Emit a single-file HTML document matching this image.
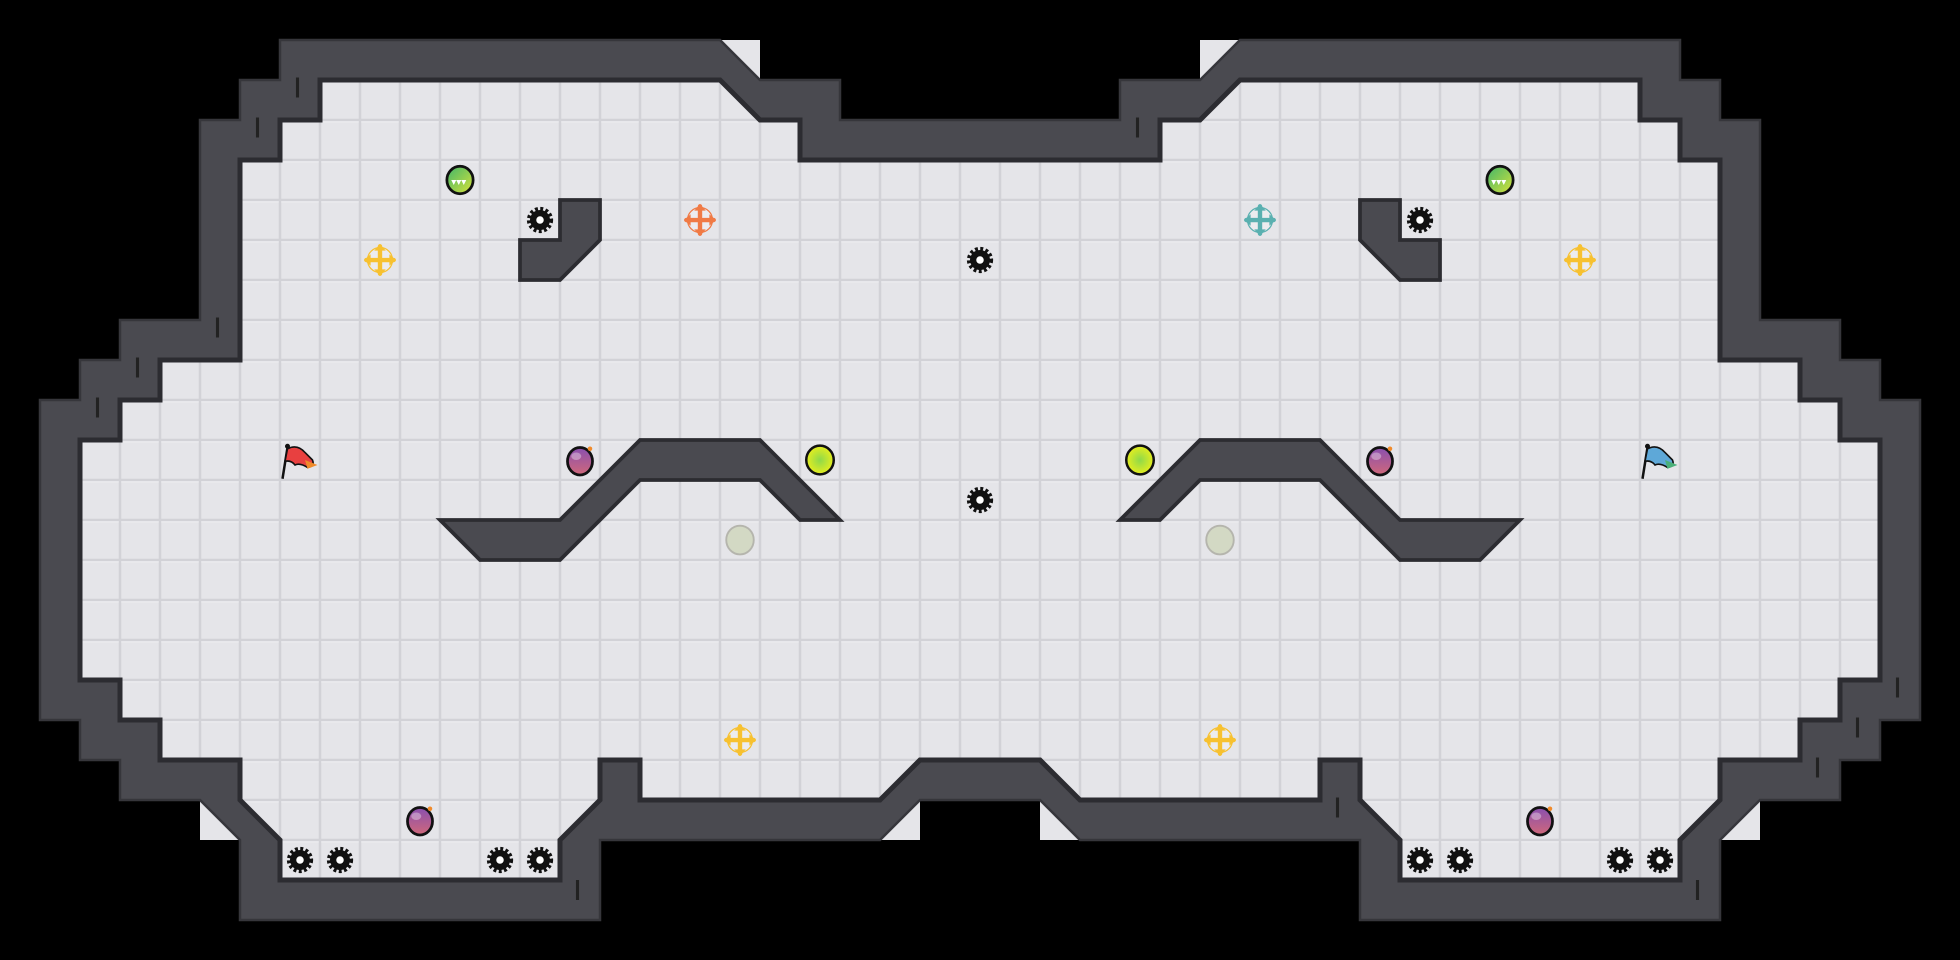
<!DOCTYPE html>
<html><head><meta charset="utf-8"><style>
html,body{margin:0;padding:0;background:#000;width:1960px;height:960px;overflow:hidden}
svg{display:block}
</style></head><body>
<svg width="1960" height="960" viewBox="0 0 1568 768" xmlns="http://www.w3.org/2000/svg">
<defs>
<pattern id="tile" x="0" y="0" width="32" height="32" patternUnits="userSpaceOnUse">
<rect width="32" height="32" fill="#d2d2d7"/>
<rect x="1" y="1" width="30" height="30" fill="#e5e5e9"/>
<rect x="1" y="1" width="30" height="1" fill="#ededf0"/>
</pattern>
<radialGradient id="lime"><stop offset="0" stop-color="#8fd94a"/><stop offset="1" stop-color="#e6ee1e"/></radialGradient>
<linearGradient id="gem" x1="0" y1="0" x2="1" y2="1"><stop offset="0" stop-color="#3fb66a"/><stop offset="1" stop-color="#d9e23a"/></linearGradient>
<linearGradient id="pot" x1="0" y1="0" x2="0" y2="1"><stop offset="0" stop-color="#8a4fb0"/><stop offset="1" stop-color="#d0687a"/></linearGradient>
<g id="gear">
<circle r="8.5" fill="none" stroke="#111" stroke-width="4" stroke-dasharray="2.2 1.8"/>
<circle r="8" fill="#111"/>
<circle r="3" fill="#fff"/>
</g>
<g id="cross">
<circle r="10" fill="#ececef"/>
<path d="M0,-11 L0,11 M-11,0 L11,0" stroke-width="3.5" stroke-linecap="round"/>
<path d="M-3.5,-8 L0,-12 L3.5,-8 Z M-3.5,8 L0,12 L3.5,8 Z M-8,-3.5 L-12,0 L-8,3.5 Z M8,-3.5 L12,0 L8,3.5 Z"/>
</g>
<g id="potion">
<ellipse cx="0" cy="1" rx="10" ry="11" fill="url(#pot)" stroke="#111" stroke-width="2.2"/>
<ellipse cx="-3" cy="-3" rx="4" ry="3" fill="#fff" opacity="0.35"/>
<circle cx="8" cy="-9" r="1.8" fill="#f08a2a"/>
</g>
</defs>
<rect width="1568" height="768" fill="#000"/>
<!-- light triangles outside diagonals -->
<g fill="#e5e5e9">
<polygon points="576,32 608,32 608,64"/>
<polygon points="960,32 992,32 960,64"/>
<polygon points="160,640 160,672 192,672"/>
<polygon points="736,640 736,672 704,672"/>
<polygon points="832,640 864,672 832,672"/>
<polygon points="1408,640 1408,672 1376,672"/>
</g>
<!-- outer wall -->
<polygon fill="#4a4a50" stroke="#36363b" stroke-width="2" points="672,96 672,64 608,64 576,32 224,32 224,64 192,64 192,96 160,96 160,256 96,256 96,288 64,288 64,320 32,320 32,576 64,576 64,608 96,608 96,640 160,640 192,672 192,736 480,736 480,672 704,672 736,640 832,640 864,672 1088,672 1088,736 1376,736 1376,672 1408,640 1472,640 1472,608 1504,608 1504,576 1536,576 1536,320 1504,320 1504,288 1472,288 1472,256 1408,256 1408,96 1376,96 1376,64 1344,64 1344,32 992,32 960,64 896,64 896,96"/>
<!-- floor -->
<polygon fill="url(#tile)" stroke="#2c2c31" stroke-width="4" stroke-linejoin="miter" points="640,128 640,96 608,96 576,64 256,64 256,96 224,96 224,128 192,128 192,288 128,288 128,320 96,320 96,352 64,352 64,544 96,544 96,576 128,576 128,608 192,608 192,640 224,672 224,704 448,704 448,672 480,640 480,608 512,608 512,640 704,640 736,608 832,608 864,640 1056,640 1056,608 1088,608 1088,640 1120,672 1120,704 1344,704 1344,672 1376,640 1376,608 1440,608 1440,576 1472,576 1472,544 1504,544 1504,352 1472,352 1472,320 1440,320 1440,288 1376,288 1376,128 1344,128 1344,96 1312,96 1312,64 992,64 960,96 928,96 928,128"/>
<!-- inner obstacles -->
<g fill="#4a4a50" stroke="#2c2c31" stroke-width="3">
<polygon points="448,160 480,160 480,192 448,224 416,224 416,192 448,192"/>
<polygon points="1120,160 1088,160 1088,192 1120,224 1152,224 1152,192 1120,192"/>
<polygon points="352,416 448,416 512,352 608,352 672,416 640,416 608,384 512,384 448,448 384,448"/>
<polygon points="1216,416 1120,416 1056,352 960,352 896,416 928,416 960,384 1056,384 1120,448 1184,448"/>
</g>
<!-- wall ticks -->
<g stroke="#222" stroke-width="2.5">
<line x1="238" y1="62" x2="238" y2="78"/><line x1="206" y1="94" x2="206" y2="110"/>
<line x1="174" y1="254" x2="174" y2="270"/><line x1="110" y1="286" x2="110" y2="302"/>
<line x1="78" y1="318" x2="78" y2="334"/><line x1="910" y1="94" x2="910" y2="110"/>
<line x1="1070" y1="638" x2="1070" y2="654"/><line x1="462" y1="704" x2="462" y2="720"/>
<line x1="1358" y1="704" x2="1358" y2="720"/><line x1="1454" y1="606" x2="1454" y2="622"/>
<line x1="1486" y1="574" x2="1486" y2="590"/><line x1="1518" y1="542" x2="1518" y2="558"/>
</g>
<!-- gears -->
<use href="#gear" x="432" y="176"/><use href="#gear" x="1136" y="176"/>
<use href="#gear" x="784" y="208"/><use href="#gear" x="784" y="400"/>
<use href="#gear" x="240" y="688"/><use href="#gear" x="272" y="688"/>
<use href="#gear" x="400" y="688"/><use href="#gear" x="432" y="688"/>
<use href="#gear" x="1136" y="688"/><use href="#gear" x="1168" y="688"/>
<use href="#gear" x="1296" y="688"/><use href="#gear" x="1328" y="688"/>
<!-- crosses -->
<use href="#cross" x="560" y="176" fill="#f07a45" stroke="#f07a45"/>
<use href="#cross" x="1008" y="176" fill="#5ab0b0" stroke="#5ab0b0"/>
<use href="#cross" x="304" y="208" fill="#f7c130" stroke="#f7c130"/>
<use href="#cross" x="1264" y="208" fill="#f7c130" stroke="#f7c130"/>
<use href="#cross" x="592" y="592" fill="#f7c130" stroke="#f7c130"/>
<use href="#cross" x="976" y="592" fill="#f7c130" stroke="#f7c130"/>
<!-- gems -->
<g stroke="#111" stroke-width="2.2">
<ellipse cx="368" cy="144" rx="10.5" ry="11" fill="url(#gem)"/>
<ellipse cx="1200" cy="144" rx="10.5" ry="11" fill="url(#gem)"/>
</g>
<g fill="#fff"><path d="M361,144 l4,0 l-2,4z M365,144 l4,0 l-2,4z M369,144 l4,0 l-2,4z"/>
<path d="M1193,144 l4,0 l-2,4z M1197,144 l4,0 l-2,4z M1201,144 l4,0 l-2,4z"/></g>
<!-- potions -->
<use href="#potion" x="464" y="368"/><use href="#potion" x="1104" y="368"/>
<use href="#potion" x="336" y="656"/><use href="#potion" x="1232" y="656"/>
<!-- lime circles -->
<ellipse cx="656" cy="368" rx="11" ry="11.5" fill="url(#lime)" stroke="#111" stroke-width="2"/>
<ellipse cx="912" cy="368" rx="11" ry="11.5" fill="url(#lime)" stroke="#111" stroke-width="2"/>
<!-- pale circles -->
<ellipse cx="592" cy="432" rx="11" ry="11.5" fill="#d3d9c4" stroke="#b5b5ad" stroke-width="1.5"/>
<ellipse cx="976" cy="432" rx="11" ry="11.5" fill="#d3d9c4" stroke="#b5b5ad" stroke-width="1.5"/>
<!-- flags -->
<g>
<line x1="230" y1="358" x2="226" y2="383" stroke="#111" stroke-width="2"/>
<circle cx="230" cy="357" r="2" fill="#111"/>
<path d="M230,359 Q238,355 244,362 L250,368 Q252,373 246,374 Q240,370 236,372 Q233,368 228,369 Z" fill="#e84040" stroke="#111" stroke-width="1.3"/>
<path d="M244,368 L254,372 L246,375 Z" fill="#f08a2a"/>
</g>
<g>
<line x1="1318" y1="358" x2="1314" y2="383" stroke="#111" stroke-width="2"/>
<circle cx="1318" cy="357" r="2" fill="#111"/>
<path d="M1318,359 Q1326,355 1332,362 L1338,368 Q1340,373 1334,374 Q1328,370 1324,372 Q1321,368 1316,369 Z" fill="#5ea8d8" stroke="#111" stroke-width="1.3"/>
<path d="M1332,368 L1342,372 L1334,375 Z" fill="#4ab07a"/>
</g>
</svg>
</body></html>
